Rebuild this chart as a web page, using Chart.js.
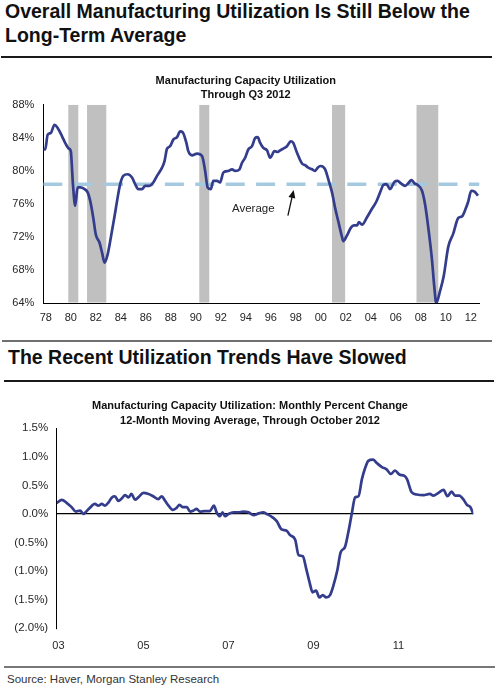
<!DOCTYPE html>
<html>
<head>
<meta charset="utf-8">
<script src="https://cdn.jsdelivr.net/npm/chart.js@4.4.0/dist/chart.umd.min.js"></script>
<style>
  body { margin: 0; width: 500px; height: 688px; background: #fff; position: relative; overflow: hidden;
         font-family: "Liberation Sans", Arial, sans-serif; color: #111; }
  .hd { position: absolute; left: 5px; font-weight: bold; font-size: 19.5px; line-height: 23.5px; white-space: nowrap; }
  .rule { position: absolute; }
  .box { position: absolute; left: 0; }
  #source { position: absolute; left: 7px; top: 673px; font-size: 11.5px; color: #333; }
</style>
</head>
<body>
<div class="hd" style="top:0px">Overall Manufacturing Utilization Is Still Below the<br>Long-Term Average</div>
<div class="rule" style="left:1px;top:56px;width:491px;height:2px;background:#1a1a1a"></div>

<div class="box" style="top:60px"><canvas id="utilization" width="500" height="270"></canvas></div>

<div class="rule" style="left:2px;top:340px;width:490px;height:1.5px;background:#707070"></div>
<div class="hd" style="top:346px;left:8px">The Recent Utilization Trends Have Slowed</div>
<div class="rule" style="left:4px;top:380px;width:490px;height:2px;background:#1a1a1a"></div>

<div class="box" style="top:385px"><canvas id="monthlyChange" width="500" height="275"></canvas></div>

<div class="rule" style="left:4px;top:666px;width:491px;height:1.5px;background:#777"></div>
<div id="source">Source: Haver, Morgan Stanley Research</div>

<script>
Chart.defaults.font.family = '"Liberation Sans", Arial, sans-serif';

// top chart: quarterly-ish capacity utilization, %
const utilYears = [1978.0, 1978.15, 1978.35, 1978.6, 1978.9, 1979.15, 1979.5, 1979.75, 1980.05, 1980.2,
  1980.37, 1980.55, 1980.75, 1980.96, 1981.3, 1981.55, 1981.75, 1982.0, 1982.2, 1982.5,
  1982.7, 1982.9, 1983.15, 1983.4, 1983.7, 1983.95, 1984.15, 1984.4, 1984.75, 1985.1,
  1985.35, 1985.6, 1985.9, 1986.15, 1986.5, 1986.8, 1987.1, 1987.5, 1987.7, 1987.9,
  1988.15, 1988.4, 1988.7, 1988.95, 1989.15, 1989.45, 1989.6, 1989.9, 1990.3, 1990.7,
  1990.95, 1991.15, 1991.4, 1991.6, 1991.9, 1992.15, 1992.4, 1992.8, 1993.1, 1993.35,
  1993.7, 1993.9, 1994.15, 1994.4, 1994.7, 1994.95, 1995.15, 1995.35, 1995.6, 1995.9,
  1996.15, 1996.5, 1996.75, 1996.95, 1997.2, 1997.5, 1997.8, 1998.0, 1998.3, 1998.7,
  1998.95, 1999.2, 1999.5, 1999.75, 1999.95, 2000.2, 2000.55, 2000.8, 2001.1, 2001.35,
  2001.6, 2001.9, 2002.0, 2002.3, 2002.6, 2002.85, 2003.1, 2003.25, 2003.5, 2003.9,
  2004.25, 2004.65, 2005.0, 2005.2, 2005.45, 2005.75, 2006.1, 2006.35, 2006.6, 2006.95,
  2007.2, 2007.45, 2007.7, 2007.95, 2008.3, 2008.55, 2008.83, 2009.1, 2009.28, 2009.44,
  2009.75, 2010.03, 2010.4, 2010.8, 2011.2, 2011.5, 2011.76, 2012.0, 2012.24, 2012.5, 2012.78];
const utilValues = [82.6, 82.6, 84.4, 84.6, 85.6, 85.2, 84.2, 83.4, 82.7, 82.4,
  78.4, 75.8, 78.0, 78.0, 77.8, 77.4, 76.4, 74.3, 72.3, 71.3,
  70.1, 68.9, 69.9, 71.9, 74.5, 76.8, 78.4, 79.4, 79.6, 79.2,
  78.4, 77.8, 77.8, 78.2, 78.2, 78.6, 79.4, 80.4, 81.2, 82.7,
  83.0, 83.8, 84.1, 84.8, 84.7, 83.4, 82.4, 81.9, 82.1, 81.8,
  80.0, 78.0, 77.8, 78.8, 78.8, 78.6, 79.8, 80.0, 80.2, 80.0,
  80.2, 81.0, 81.6, 82.6, 83.0, 84.0, 84.1, 83.4, 82.8, 82.5,
  81.6, 82.4, 82.3, 82.5, 82.7, 83.0, 83.6, 83.4, 82.2, 80.9,
  80.7, 80.4, 80.2, 80.0, 80.4, 80.6, 80.2, 79.0, 77.4, 75.5,
  73.9, 72.0, 71.5, 72.2, 73.1, 73.4, 73.4, 73.8, 73.5, 74.4,
  75.3, 76.3, 77.6, 78.3, 78.4, 77.8, 78.7, 78.8, 78.5, 78.2,
  78.5, 78.9, 78.5, 78.3, 77.6, 75.9, 72.8, 69.2, 66.0, 64.0,
  65.5, 67.2, 70.8, 72.4, 74.3, 74.5, 75.3, 76.3, 77.6, 77.5, 77.0];
const averageLevel = 78.4;
const recessionStarts = [1980.0, 1981.5, 1990.48, 2001.1, 2007.86];
const recessionEnds = [1980.8, 1983.04, 1991.28, 2002.15, 2009.6];
const utilTickYears = [1978, 1980, 1982, 1984, 1986, 1988, 1990, 1992, 1994, 1996, 1998,
  2000, 2002, 2004, 2006, 2008, 2010, 2012];

// bottom chart: monthly % change, 12-month moving average
const changeYears = [2003.0, 2003.12, 2003.24, 2003.35, 2003.45, 2003.55, 2003.63, 2003.69, 2003.77, 2003.9,
  2003.98, 2004.06, 2004.14, 2004.22, 2004.3, 2004.37, 2004.45, 2004.53, 2004.61, 2004.69,
  2004.76, 2004.84, 2004.92, 2005.04, 2005.16, 2005.27, 2005.39, 2005.47, 2005.55, 2005.63,
  2005.73, 2005.81, 2005.89, 2005.96, 2006.06, 2006.14, 2006.22, 2006.29, 2006.37, 2006.49,
  2006.6, 2006.7, 2006.76, 2006.84, 2006.9, 2006.96, 2007.04, 2007.16, 2007.27, 2007.39,
  2007.51, 2007.63, 2007.75, 2007.86, 2007.94, 2008.06, 2008.18, 2008.29, 2008.4, 2008.49,
  2008.61, 2008.69, 2008.79, 2008.87, 2008.95, 2009.02, 2009.1, 2009.18, 2009.26, 2009.34,
  2009.43, 2009.51, 2009.6, 2009.68, 2009.78, 2009.86, 2009.94, 2010.02, 2010.1, 2010.18,
  2010.25, 2010.33, 2010.44, 2010.53, 2010.65, 2010.76, 2010.86, 2010.96, 2011.06, 2011.17,
  2011.24, 2011.35, 2011.47, 2011.63, 2011.78, 2011.86, 2011.98, 2012.1, 2012.19, 2012.29,
  2012.37, 2012.47, 2012.57, 2012.65, 2012.73, 2012.8];
const changeValues = [0.19, 0.245, 0.19, 0.12, 0.04, 0.06, 0.0, 0.04, 0.10, 0.175,
  0.146, 0.175, 0.146, 0.204, 0.29, 0.31, 0.23, 0.27, 0.33, 0.29,
  0.35, 0.25, 0.29, 0.37, 0.35, 0.31, 0.26, 0.31, 0.23, 0.146,
  0.07, 0.10, 0.16, 0.12, 0.12, 0.04, 0.06, 0.09, 0.04, 0.05,
  0.05, 0.146, 0.03, -0.04, 0.03, -0.04, 0.0, 0.03, 0.03, 0.04,
  0.03, -0.02, 0.01, 0.03, 0.0, -0.05, -0.13, -0.27, -0.29, -0.37,
  -0.45, -0.72, -0.74, -0.96, -1.20, -1.37, -1.34, -1.46, -1.42, -1.46,
  -1.42, -1.25, -0.99, -0.67, -0.58, -0.32, 0.0, 0.29, 0.31, 0.61,
  0.79, 0.93, 0.95, 0.89, 0.82, 0.78, 0.70, 0.76, 0.69, 0.67,
  0.61, 0.38, 0.34, 0.33, 0.35, 0.32, 0.37, 0.42, 0.31, 0.39,
  0.32, 0.32, 0.25, 0.16, 0.12, 0.0];
const changeTickYears = [2003, 2005, 2007, 2009, 2011];

const navy = '#343c8c';
const tickColor = '#262626';
const twoDigitYear = v => String(Math.floor(v + 0.001) % 100).padStart(2, '0');

// gray recession columns behind the line
const recessionShade = {
  id: 'recessionShade',
  beforeDatasetsDraw(chart) {
    const {ctx, chartArea, scales: {x}} = chart;
    ctx.save();
    ctx.fillStyle = '#c0c0c0';
    recessionStarts.forEach((s, i) => {
      const x0 = x.getPixelForValue(s);
      const x1 = x.getPixelForValue(recessionEnds[i]);
      ctx.fillRect(x0, chartArea.top, x1 - x0, chartArea.bottom - chartArea.top - 0.5);
    });
    ctx.restore();
  }
};

// "Average" label with arrow pointing at the dashed line
const averageNote = {
  id: 'averageNote',
  afterDatasetsDraw(chart) {
    const {ctx, scales: {x, y}} = chart;
    ctx.save();
    ctx.font = '11.5px "Liberation Sans", Arial, sans-serif';
    ctx.fillStyle = '#222';
    ctx.textAlign = 'center';
    ctx.textBaseline = 'middle';
    ctx.fillText('Average', x.getPixelForValue(1994.8), y.getPixelForValue(75.4));

    const tx = x.getPixelForValue(1997.57), ty = y.getPixelForValue(74.6);
    const hx = x.getPixelForValue(1998.03), hy = y.getPixelForValue(77.7);
    const ang = Math.atan2(hy - ty, hx - tx);
    ctx.strokeStyle = '#111';
    ctx.lineWidth = 1.3;
    ctx.beginPath();
    ctx.moveTo(tx, ty);
    ctx.lineTo(hx - 6 * Math.cos(ang), hy - 6 * Math.sin(ang));
    ctx.stroke();
    ctx.fillStyle = '#111';
    ctx.beginPath();
    ctx.moveTo(hx, hy);
    ctx.lineTo(hx - 8 * Math.cos(ang) + 3.5 * Math.sin(ang), hy - 8 * Math.sin(ang) - 3.5 * Math.cos(ang));
    ctx.lineTo(hx - 8 * Math.cos(ang) - 3.5 * Math.sin(ang), hy - 8 * Math.sin(ang) + 3.5 * Math.cos(ang));
    ctx.closePath();
    ctx.fill();
    ctx.restore();
  }
};

new Chart(document.getElementById('utilization'), {
  type: 'line',
  data: {
    datasets: [{
      data: utilYears.map((yr, i) => ({x: yr, y: utilValues[i]})),
      borderColor: navy,
      borderWidth: 2.7,
      pointRadius: 0,
      cubicInterpolationMode: 'monotone'
    }, {
      data: [{x: 1978, y: averageLevel}, {x: 2012.9, y: averageLevel}],
      borderColor: '#a5c9df',
      borderWidth: 3.5,
      borderDash: [19, 11.4],
      pointRadius: 0
    }]
  },
  options: {
    responsive: false,
    animation: false,
    layout: { padding: { left: 12, right: 20.5, top: 0, bottom: 2 } },
    plugins: {
      legend: { display: false },
      tooltip: { enabled: false },
      title: {
        display: true,
        text: ['Manufacturing Capacity Utilization', 'Through Q3 2012'],
        color: '#111',
        font: { size: 11, weight: 'bold', lineHeight: 1.27 },
        padding: { top: 14, bottom: 3 }
      }
    },
    scales: {
      x: {
        type: 'linear', min: 1978, max: 2012.9,
        afterBuildTicks: s => { s.ticks = utilTickYears.map(v => ({value: v + 0.2})); },
        afterFit: s => { s.height = 25; },
        ticks: { callback: twoDigitYear, padding: 8, maxRotation: 0, autoSkip: false, color: tickColor, font: { size: 11 } },
        grid: { display: false, drawTicks: false },
        border: { display: true, color: '#000', width: 1 }
      },
      y: {
        min: 64, max: 88,
        afterFit: s => { s.width = 31.3; },
        ticks: { stepSize: 4, callback: v => v + '%', padding: 9, color: tickColor, font: { size: 11 } },
        grid: { display: false, drawTicks: false },
        border: { display: true, color: '#000', width: 1 }
      }
    }
  },
  plugins: [recessionShade, averageNote]
});

new Chart(document.getElementById('monthlyChange'), {
  type: 'line',
  data: {
    datasets: [{
      data: changeYears.map((yr, i) => ({x: yr, y: changeValues[i]})),
      borderColor: navy,
      borderWidth: 2.7,
      pointRadius: 0,
      cubicInterpolationMode: 'monotone'
    }]
  },
  options: {
    responsive: false,
    animation: false,
    layout: { padding: { left: 0, right: 0, top: 0, bottom: 3.7 } },
    plugins: {
      legend: { display: false },
      tooltip: { enabled: false },
      title: {
        display: true,
        text: ['Manufacturing Capacity Utilization: Monthly Percent Change', '12-Month Moving Average, Through October 2012'],
        color: '#111',
        font: { size: 11, weight: 'bold', lineHeight: 1.36 },
        padding: { top: 13.2, bottom: 0.1 }
      }
    },
    scales: {
      x: {
        type: 'linear', min: 2003, max: 2012.8,
        afterBuildTicks: s => { s.ticks = changeTickYears.map(v => ({value: v + 0.04})); },
        afterFit: s => { s.height = 28; },
        ticks: { callback: twoDigitYear, padding: 11, maxRotation: 0, autoSkip: false, color: tickColor, font: { size: 11 } },
        grid: { display: false, drawTicks: false },
        border: { display: false }
      },
      y: {
        min: -2, max: 1.5,
        afterFit: s => { s.width = 56.7; },
        ticks: {
          stepSize: 0.5, padding: 8.5, color: tickColor, font: { size: 11.5 },
          callback: v => v < 0 ? '(' + Math.abs(v).toFixed(1) + '%)' : v.toFixed(1) + '%'
        },
        grid: {
          drawTicks: false,
          color: c => Math.abs(c.tick.value) < 1e-9 ? '#000' : 'rgba(0,0,0,0)',
          lineWidth: 1.2
        },
        border: { display: true, color: '#000', width: 1 }
      },
      // empty right-hand margin axis so the title centres like the original
      yRight: {
        position: 'right', min: -2, max: 1.5,
        afterFit: s => { s.width = 26.7; },
        ticks: { display: false },
        grid: { display: false, drawTicks: false },
        border: { display: false }
      }
    }
  }
});
</script>
</body>
</html>
